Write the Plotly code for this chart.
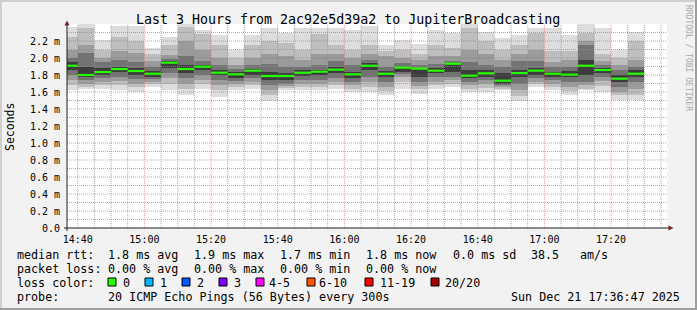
import plotly.graph_objects as go
from datetime import datetime, timedelta

# ---------------- data ----------------
DAY = "2025-12-21"
RANGE_START = "2025-12-21 14:36:47"
RANGE_END = "2025-12-21 17:36:47"

col_end = ["14:40", "14:45", "14:50", "14:55", "15:00", "15:05", "15:10", "15:15",
           "15:20", "15:25", "15:30", "15:35", "15:40", "15:45", "15:50", "15:55",
           "16:00", "16:05", "16:10", "16:15", "16:20", "16:25", "16:30", "16:35",
           "16:40", "16:45", "16:50", "16:55", "17:00", "17:05", "17:10", "17:15",
           "17:20", "17:25", "17:30"]

median = [1.909, 1.800, 1.835, 1.870, 1.847, 1.815, 1.945, 1.870, 1.898, 1.827,
          1.808, 1.851, 1.788, 1.788, 1.827, 1.839, 1.863, 1.808, 1.909, 1.815,
          1.886, 1.875, 1.851, 1.933, 1.792, 1.820, 1.733, 1.823, 1.851, 1.815,
          1.804, 1.909, 1.859, 1.757, 1.815]

# smoke bands (ms), outermost (1) to innermost (5)
hi1 = [2.36, 2.40, 2.21, 2.38, 2.38, 2.12, 2.25, 2.42, 2.33, 2.27, 2.09, 2.27, 2.35, 2.29, 2.35,
       2.35, 2.35, 2.33, 2.38, 2.15, 2.21, 2.17, 2.33, 2.29, 2.42, 2.31, 2.23, 2.27, 2.35, 2.35,
       2.27, 2.42, 2.35, 2.09, 2.31]
hi2 = [2.25, 2.35, 2.10, 2.25, 2.20, 2.05, 2.15, 2.37, 2.28, 2.15, 2.00, 2.15, 2.20, 2.18, 2.10,
       2.28, 2.15, 2.10, 2.15, 2.08, 2.10, 2.05, 2.15, 2.12, 2.35, 2.20, 2.10, 2.15, 2.30, 2.08,
       2.08, 2.30, 2.05, 2.00, 2.20]
hi3 = [2.10, 2.15, 2.00, 2.08, 2.06, 1.96, 2.04, 2.20, 2.10, 2.00, 1.92, 2.00, 2.05, 2.02, 1.98,
       2.05, 2.05, 2.00, 2.05, 2.02, 2.00, 1.98, 2.02, 2.02, 2.10, 2.05, 1.98, 2.05, 2.10, 1.95,
       1.98, 2.20, 1.96, 1.92, 1.98]
hi4 = [2.00, 2.06, 1.95, 1.98, 1.95, 1.90, 1.99, 2.02, 1.96, 1.92, 1.87, 1.92, 1.93, 1.90, 1.90,
       1.92, 1.96, 1.92, 1.98, 1.90, 1.94, 1.92, 1.93, 1.96, 1.95, 1.92, 1.90, 1.96, 1.96, 1.89,
       1.90, 2.15, 1.92, 1.86, 1.90]
hi5 = [1.95, 1.90, 1.88, 1.90, 1.88, 1.85, 1.96, 1.92, 1.92, 1.86, 1.84, 1.87, 1.84, 1.82, 1.86,
       1.86, 1.90, 1.84, 1.94, 1.85, 1.90, 1.88, 1.88, 1.93, 1.86, 1.86, 1.82, 1.86, 1.88, 1.84,
       1.85, 1.98, 1.88, 1.80, 1.86]
lo5 = [1.86, 1.78, 1.80, 1.83, 1.80, 1.78, 1.88, 1.82, 1.86, 1.80, 1.76, 1.80, 1.74, 1.74, 1.79,
       1.80, 1.82, 1.76, 1.86, 1.78, 1.84, 1.78, 1.82, 1.84, 1.76, 1.78, 1.70, 1.78, 1.80, 1.78,
       1.78, 1.80, 1.82, 1.72, 1.78]
lo4 = [1.80, 1.74, 1.76, 1.78, 1.75, 1.75, 1.82, 1.76, 1.80, 1.74, 1.73, 1.76, 1.68, 1.70, 1.74,
       1.74, 1.76, 1.72, 1.78, 1.72, 1.81, 1.72, 1.78, 1.78, 1.72, 1.74, 1.68, 1.70, 1.76, 1.74,
       1.72, 1.72, 1.78, 1.66, 1.72]
lo3 = [1.74, 1.70, 1.72, 1.73, 1.70, 1.72, 1.76, 1.70, 1.74, 1.68, 1.70, 1.72, 1.62, 1.67, 1.70,
       1.70, 1.72, 1.68, 1.72, 1.66, 1.78, 1.67, 1.72, 1.74, 1.68, 1.70, 1.66, 1.62, 1.72, 1.70,
       1.66, 1.68, 1.73, 1.60, 1.64]
lo2 = [1.68, 1.66, 1.68, 1.68, 1.66, 1.69, 1.70, 1.64, 1.69, 1.62, 1.66, 1.68, 1.57, 1.65, 1.66,
       1.66, 1.68, 1.64, 1.66, 1.61, 1.72, 1.63, 1.68, 1.70, 1.64, 1.65, 1.64, 1.55, 1.69, 1.66,
       1.61, 1.64, 1.67, 1.56, 1.57]
lo1 = [1.62, 1.64, 1.63, 1.62, 1.60, 1.66, 1.62, 1.56, 1.64, 1.54, 1.62, 1.64, 1.50, 1.62, 1.62,
       1.62, 1.64, 1.60, 1.60, 1.56, 1.64, 1.58, 1.64, 1.66, 1.60, 1.60, 1.62, 1.49, 1.66, 1.62,
       1.56, 1.62, 1.60, 1.51, 1.51]

band_colors = ["#dddddd", "#bebebe", "#9b9b9b", "#737373", "#3c3c3c"]

x_tick_labels = ["14:40", "15:00", "15:20", "15:40", "16:00", "16:20", "16:40", "17:00", "17:20"]
y_tick_vals = [0.0, 0.2, 0.4, 0.6, 0.8, 1.0, 1.2, 1.4, 1.6, 1.8, 2.0, 2.2]
y_tick_text = ["0.0", "0.2 m", "0.4 m", "0.6 m", "0.8 m", "1.0 m", "1.2 m", "1.4 m",
               "1.6 m", "1.8 m", "2.0 m", "2.2 m"]
y_max = 2.4

title_text = "Last 3 Hours from 2ac92e5d39a2 to JupiterBroadcasting"
rtt_label = "median rtt:"
rtt_stats = ["1.8 ms avg", "1.9 ms max", "1.7 ms min", "1.8 ms now", "0.0 ms sd", "38.5", "am/s"]
loss_label = "packet loss:"
loss_stats = ["0.00 % avg", "0.00 % max", "0.00 % min", "0.00 % now"]
color_label = "loss color:"
loss_names = ["0", "1", "2", "3", "4-5", "6-10", "11-19", "20/20"]
loss_colors = ["#26ff00", "#00b8ff", "#0059ff", "#7e00ff", "#ff00ff", "#ff5500", "#ff0000", "#a10000"]
probe_label = "probe:"
probe_text = "20 ICMP Echo Pings (56 Bytes) every 300s"
stamp_text = "Sun Dec 21 17:36:47 2025"
watermark = "RRDTOOL / TOBI OETIKER"

# ---------------- layout geometry (pixels) ----------------
W, H = 697, 310
L, R, T, B = 67, 667, 24, 228
MONO = "DejaVu Sans Mono"
BG = "#f2f2f2"
SHADE_A = "#cfcfcf"
SHADE_B = "#9e9e9e"
GRID = "rgba(143,143,143,0.75)"
MGRID = "rgba(222,79,79,0.6)"
ARROW = "#801f1f"
AXIS = "#1f1f1f"


def pxx(p):
    return (p - L) / (R - L)


def pxy(p):
    return (B - p) / (B - T)


def t(hm):
    return datetime.strptime(f"{DAY} {hm}", "%Y-%m-%d %H:%M")


step = timedelta(minutes=5)
ends = [t(s) for s in col_end]
centers = [e - step / 2 for e in ends]
starts = [e - step for e in ends]

fig = go.Figure()

bands = [(lo1, hi1), (lo2, hi2), (lo3, hi3), (lo4, hi4), (lo5, hi5)]
for (lo, hi), c in zip(bands, band_colors):
    fig.add_trace(go.Bar(
        x=centers, base=lo, y=[h - l for h, l in zip(hi, lo)],
        width=[step.total_seconds() * 1000] * len(centers),
        marker=dict(color=c, line=dict(width=0)),
        hoverinfo="skip", showlegend=False))

# black step line of the median
sx, sy = [], []
for s, e, m in zip(starts, ends, median):
    sx += [s, e]
    sy += [m, m]
fig.add_trace(go.Scatter(x=sx, y=sy, mode="lines",
                         line=dict(color="#202020", width=1, dash="1px,1px"),
                         hoverinfo="skip", showlegend=False))
# green median segments (0 loss)
gx, gy = [], []
for s, e, m in zip(starts, ends, median):
    gx += [s, e, None]
    gy += [m, m, None]
fig.add_trace(go.Scatter(x=gx, y=gy, mode="lines",
                         line=dict(color=loss_colors[0], width=2.2),
                         hoverinfo="skip", showlegend=False))

shapes = []
# grid (drawn over the smoke, like rrdtool)
rs = datetime.strptime(RANGE_START, "%Y-%m-%d %H:%M:%S")
re_ = datetime.strptime(RANGE_END, "%Y-%m-%d %H:%M:%S")
major_x = [t(s) for s in x_tick_labels]
g = t(x_tick_labels[0])
while g > rs + step:
    g -= step
while g < re_:
    if g > rs:
        col = MGRID if g in major_x else GRID
        shapes.append(dict(type="line", xref="x", yref="paper", x0=g, x1=g, y0=0, y1=1,
                           line=dict(color=col, width=1, dash="1px,1px"), layer="above"))
    g += step
for i in range(1, 24):
    v = i * 0.1
    col = MGRID if i % 2 == 0 else GRID
    shapes.append(dict(type="line", xref="paper", yref="y", x0=0, x1=1, y0=v, y1=v,
                       line=dict(color=col, width=1, dash="1px,1px"), layer="above"))

# axes + arrows
shapes.append(dict(type="line", xref="paper", yref="paper", x0=pxx(64), x1=pxx(669),
                   y0=pxy(228), y1=pxy(228), line=dict(color=AXIS, width=1), layer="above"))
shapes.append(dict(type="line", xref="paper", yref="paper", x0=pxx(67), x1=pxx(67),
                   y0=pxy(231), y1=pxy(25), line=dict(color=AXIS, width=1), layer="above"))
shapes.append(dict(type="path", xref="paper", yref="paper",
                   path=f"M {pxx(64.5)} {pxy(25.5)} L {pxx(69.5)} {pxy(25.5)} L {pxx(67)} {pxy(20.5)} Z",
                   fillcolor=ARROW, line=dict(width=0), layer="above"))
shapes.append(dict(type="path", xref="paper", yref="paper",
                   path=f"M {pxx(668.5)} {pxy(225.5)} L {pxx(668.5)} {pxy(230.5)} L {pxx(673.5)} {pxy(228)} Z",
                   fillcolor=ARROW, line=dict(width=0), layer="above"))

# frame
shapes += [
    dict(type="rect", xref="paper", yref="paper", x0=pxx(0), x1=pxx(W), y0=pxy(0), y1=pxy(2),
         fillcolor=SHADE_A, line=dict(width=0)),
    dict(type="rect", xref="paper", yref="paper", x0=pxx(0), x1=pxx(2), y0=pxy(0), y1=pxy(H),
         fillcolor=SHADE_A, line=dict(width=0)),
    dict(type="rect", xref="paper", yref="paper", x0=pxx(0), x1=pxx(W), y0=pxy(H - 2), y1=pxy(H),
         fillcolor=SHADE_B, line=dict(width=0)),
    dict(type="rect", xref="paper", yref="paper", x0=pxx(W - 2), x1=pxx(W), y0=pxy(0), y1=pxy(H),
         fillcolor=SHADE_B, line=dict(width=0)),
]

# legend boxes
box_x = [108, 145, 182, 219, 256, 307, 365, 431]
for bx, c in zip(box_x, loss_colors):
    shapes.append(dict(type="rect", xref="paper", yref="paper", x0=pxx(bx), x1=pxx(bx + 8),
                       y0=pxy(286), y1=pxy(278), fillcolor=c, line=dict(color="#000000", width=1)))

ann = []


def text(px, py, s, size=11.7, anchor="left", color="#000000", angle=0, family=MONO):
    ann.append(dict(x=pxx(px), y=pxy(py), xref="paper", yref="paper", text=s, showarrow=False,
                    xanchor=anchor, yanchor="middle", borderpad=0, textangle=angle,
                    font=dict(family=family, size=size, color=color)))


text(347.5, 19, title_text, size=13.3, anchor="center")
text(10, 127, "Seconds", size=11.5, anchor="center", angle=-90)
text(688, 58, watermark, size=8, anchor="center", angle=90, color="#a8a8a8")

row_y = [254.5, 268.5, 282.5, 296.5]
col_x = [107, 193, 279, 365, 451.5, 530, 579]
text(16, row_y[0], rtt_label)
for x, s in zip(col_x, rtt_stats):
    text(x, row_y[0], s)
text(16, row_y[1], loss_label)
for x, s in zip(col_x, loss_stats):
    text(x, row_y[1], s)
text(16, row_y[2], color_label)
lab_x = [122, 159, 196, 233, 268, 318, 379, 444]
for x, s in zip(lab_x, loss_names):
    text(x, row_y[2], s)
text(16, row_y[3], probe_label)
text(107, row_y[3], probe_text)
text(681, row_y[3], stamp_text, anchor="right")

fig.update_layout(
    width=W, height=H,
    margin=dict(l=L, r=W - R, t=T, b=H - B, autoexpand=False),
    paper_bgcolor=BG, plot_bgcolor="#ffffff",
    barmode="overlay", bargap=0, showlegend=False,
    shapes=shapes, annotations=ann,
    xaxis=dict(type="date", range=[RANGE_START, RANGE_END], showgrid=False, zeroline=False,
               showline=False, tickvals=major_x, ticktext=x_tick_labels,
               ticks="outside", ticklen=2, tickcolor="rgba(0,0,0,0)",
               tickfont=dict(family=MONO, size=10, color="#000000"), automargin=False),
    yaxis=dict(range=[0, y_max], showgrid=False, zeroline=False, showline=False,
               tickvals=y_tick_vals, ticktext=y_tick_text,
               ticks="outside", ticklen=4, tickcolor="rgba(0,0,0,0)",
               tickfont=dict(family=MONO, size=10, color="#000000"), automargin=False),
)

fig.write_html("out.html")
